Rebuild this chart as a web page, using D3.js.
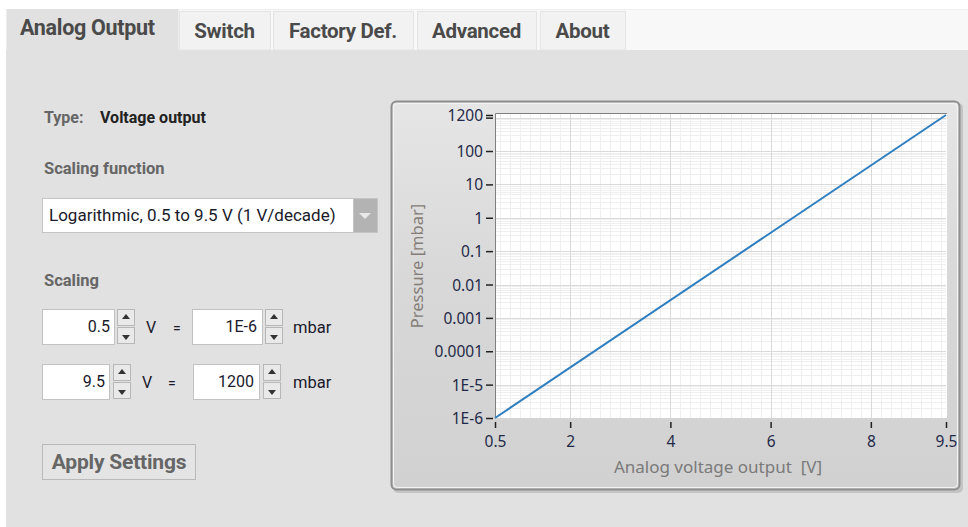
<!DOCTYPE html>
<html>
<head>
<meta charset="utf-8">
<script src="https://cdn.jsdelivr.net/npm/d3@7"></script>
<style>
  html, body { margin: 0; padding: 0; background: #fff; }
  svg { display: block; font-family: Roboto, "Noto Sans", sans-serif; }
  text { white-space: pre; }
</style>
</head>
<body>
<div id="holder"></div>
<script>
// Scaling points (voltage -> pressure)
const voltage = [0.5, 9.5];
const pressure = [1e-6, 1200];

// Axis ticks
const xTicks = [0.5, 2, 4, 6, 8, 9.5];
const yTicks = [1e-6, 1e-5, 1e-4, 0.001, 0.01, 0.1, 1, 10, 100, 1000, 1200];
const yTickLabels = ['1E-6', '1E-5', '0.0001', '0.001', '0.01', '0.1', '1', '10', '100', '', '1200'];

// Tabs
const tabNames = ['Analog Output', 'Switch', 'Factory Def.', 'Advanced', 'About'];
const tabEdges = [[6, 178], [179, 270], [273, 413], [417, 536], [540, 625]];

const W = 968, H = 527;

const svg = d3.select('#holder').append('svg')
    .attr('width', W)
    .attr('height', H);

const defs = svg.append('defs');
const grad = defs.append('linearGradient').attr('id', 'panelGrad')
    .attr('x1', 0).attr('y1', 0).attr('x2', 0).attr('y2', 1);
grad.append('stop').attr('offset', '0%').attr('stop-color', '#e6e6e6');
grad.append('stop').attr('offset', '45%').attr('stop-color', '#d8d8d8');
grad.append('stop').attr('offset', '100%').attr('stop-color', '#d1d1d1');

// page background
svg.append('rect').attr('width', W).attr('height', H).attr('fill', '#fff');
svg.append('rect').attr('x', 6).attr('y', 50).attr('width', W - 6).attr('height', H - 50).attr('fill', '#e1e1e1');
svg.append('rect').attr('x', 6).attr('y', 9).attr('width', W - 6).attr('height', 41).attr('fill', '#f8f8f8');
svg.append('line').attr('x1', 6).attr('x2', W).attr('y1', 9.5).attr('y2', 9.5).attr('stroke', '#efefef');

// tabs
const tabs = svg.append('g');
tabs.selectAll('rect')
    .data(tabNames)
    .join('rect')
    .attr('x', (d, i) => tabEdges[i][0] + 0.5)
    .attr('y', (d, i) => i === 0 ? 9 : 11.5)
    .attr('width', (d, i) => tabEdges[i][1] - tabEdges[i][0])
    .attr('height', (d, i) => i === 0 ? 42 : 38.5)
    .attr('fill', (d, i) => i === 0 ? '#e1e1e1' : '#f2f2f2')
    .attr('stroke', (d, i) => i === 0 ? 'none' : '#e4e4e4');

tabs.selectAll('text')
    .data(tabNames)
    .join('text')
    .attr('x', (d, i) => i === 0 ? 20 : (tabEdges[i][0] + tabEdges[i][1]) / 2)
    .attr('y', (d, i) => i === 0 ? 34.5 : 37.5)
    .attr('text-anchor', (d, i) => i === 0 ? 'start' : 'middle')
    .attr('font-size', (d, i) => i === 0 ? '21.5px' : '20.5px')
    .attr('font-weight', 'bold')
    .attr('letter-spacing', '-0.3px')
    .attr('fill', '#4a4a4a')
    .text(d => d);

// left controls
const ctl = svg.append('g');

ctl.append('text').attr('x', 44).attr('y', 123).attr('font-size', '16px').attr('font-weight', 'bold')
    .attr('fill', '#666').text('Type:');
ctl.append('text').attr('x', 100).attr('y', 123).attr('font-size', '16px').attr('font-weight', 'bold')
    .attr('fill', '#222').text('Voltage output');
ctl.append('text').attr('x', 44).attr('y', 174).attr('font-size', '16.5px').attr('font-weight', 'bold')
    .attr('fill', '#666').text('Scaling function');

// dropdown
ctl.append('rect').attr('x', 42.5).attr('y', 198.5).attr('width', 311).attr('height', 34)
    .attr('fill', '#fff').attr('stroke', '#c4c4c4');
ctl.append('rect').attr('x', 353.5).attr('y', 198.5).attr('width', 24).attr('height', 34)
    .attr('fill', '#b3b3b3').attr('stroke', '#c4c4c4');
ctl.append('path').attr('d', 'M359,213 L371,213 L365,219 Z').attr('fill', '#e8e8e8');
ctl.append('text').attr('x', 49).attr('y', 221).attr('font-size', '17px').attr('fill', '#1a1a2a')
    .text('Logarithmic, 0.5 to 9.5 V (1 V/decade)');

ctl.append('text').attr('x', 44).attr('y', 286).attr('font-size', '16.5px').attr('font-weight', 'bold')
    .attr('fill', '#666').text('Scaling');

// numeric inputs
const rows = [
    { y: 309, v: '0.5', p: '1E-6', b1: [42, 114], s1: 117, eq: 173, b2: [192, 262], s2: 265 },
    { y: 364, v: '9.5', p: '1200', b1: [42, 109], s1: 113, eq: 168, b2: [193, 259], s2: 263 }
];

function spinner(g, x, y) {
    g.append('rect').attr('x', x + 0.5).attr('y', y + 0.5).attr('width', 17).attr('height', 16)
        .attr('fill', '#e9e9e9').attr('stroke', '#b7b7b7');
    g.append('rect').attr('x', x + 0.5).attr('y', y + 18.5).attr('width', 17).attr('height', 16)
        .attr('fill', '#e9e9e9').attr('stroke', '#b7b7b7');
    g.append('path').attr('d', `M${x + 5},${y + 10} L${x + 13},${y + 10} L${x + 9},${y + 5} Z`).attr('fill', '#333');
    g.append('path').attr('d', `M${x + 5},${y + 26} L${x + 13},${y + 26} L${x + 9},${y + 31} Z`).attr('fill', '#333');
}

rows.forEach(r => {
    const g = ctl.append('g');
    g.append('rect').attr('x', r.b1[0] + 0.5).attr('y', r.y + 0.5).attr('width', r.b1[1] - r.b1[0])
        .attr('height', 35).attr('fill', '#fff').attr('stroke', '#c2c2c2');
    g.append('text').attr('x', r.b1[1] - 4).attr('y', r.y + 23).attr('text-anchor', 'end')
        .attr('font-size', '16px').attr('fill', '#1a1a2a').text(r.v);
    spinner(g, r.s1, r.y);
    g.append('text').attr('x', r.s1 + 29).attr('y', r.y + 24).attr('font-size', '16px').attr('fill', '#1a1a2a').text('V');
    g.append('text').attr('x', r.eq).attr('y', r.y + 24).attr('font-size', '14px').attr('fill', '#1a1a2a').text('=');
    g.append('rect').attr('x', r.b2[0] + 0.5).attr('y', r.y + 0.5).attr('width', r.b2[1] - r.b2[0])
        .attr('height', 35).attr('fill', '#fff').attr('stroke', '#c2c2c2');
    g.append('text').attr('x', r.b2[1] - 5).attr('y', r.y + 23).attr('text-anchor', 'end')
        .attr('font-size', '16px').attr('fill', '#1a1a2a').text(r.p);
    spinner(g, r.s2, r.y);
    g.append('text').attr('x', 293).attr('y', r.y + 24).attr('font-size', '16.5px').attr('fill', '#1a1a2a').text('mbar');
});

// apply button
ctl.append('rect').attr('x', 42.5).attr('y', 444.5).attr('width', 153).attr('height', 35)
    .attr('fill', '#e4e4e4').attr('stroke', '#b9b9b9');
ctl.append('text').attr('x', 119).attr('y', 469).attr('text-anchor', 'middle')
    .attr('font-size', '21px').attr('font-weight', 'bold').attr('letter-spacing', '-0.2px')
    .attr('fill', '#666').text('Apply Settings');

// chart panel
const panel = svg.append('g');
panel.append('rect').attr('x', 393).attr('y', 103).attr('width', 570).attr('height', 390).attr('rx', 5)
    .attr('fill', '#c4c4c4');
panel.append('rect').attr('x', 391.5).attr('y', 101.5).attr('width', 568).attr('height', 388).attr('rx', 5)
    .attr('fill', 'url(#panelGrad)').attr('stroke', '#8e8e8e').attr('stroke-width', 2);
panel.append('rect').attr('x', 393.5).attr('y', 103.5).attr('width', 564).attr('height', 384).attr('rx', 4)
    .attr('fill', 'none').attr('stroke', '#f4f4f4').attr('stroke-width', 1);

// plot
const plot = { left: 495, right: 946, top: 113, bottom: 418 };

const x = d3.scaleLinear().domain([0.5, 9.5]).range([plot.left, plot.right]);
const y = d3.scaleLog().domain([1e-6, 1200]).range([plot.bottom, 115]);

const chart = svg.append('g');
chart.append('rect').attr('x', plot.left).attr('y', plot.top)
    .attr('width', plot.right - plot.left + 1).attr('height', plot.bottom - plot.top).attr('fill', '#fff');

// minor grid
const xMinor = d3.range(6, 95, 2).map(d => d / 10).filter(d => d % 2 !== 0);
const yMinor = [];
d3.range(-6, 4).forEach(e => {
    d3.range(2, 10).forEach(k => {
        const v = k * Math.pow(10, e);
        if (v < 1200) yMinor.push(v);
    });
});

chart.append('g').selectAll('line')
    .data(xMinor)
    .join('line')
    .attr('x1', d => Math.round(x(d)) + 0.5).attr('x2', d => Math.round(x(d)) + 0.5)
    .attr('y1', plot.top).attr('y2', plot.bottom)
    .attr('stroke', '#efefef');

chart.append('g').selectAll('line')
    .data(yMinor)
    .join('line')
    .attr('y1', d => Math.round(y(d)) + 0.5).attr('y2', d => Math.round(y(d)) + 0.5)
    .attr('x1', plot.left).attr('x2', plot.right)
    .attr('stroke', '#efefef');

// major grid
chart.append('g').selectAll('line')
    .data(xTicks.slice(1, -1))
    .join('line')
    .attr('x1', d => Math.round(x(d)) + 0.5).attr('x2', d => Math.round(x(d)) + 0.5)
    .attr('y1', plot.top).attr('y2', plot.bottom)
    .attr('stroke', '#dadada');

chart.append('g').selectAll('line')
    .data(yTicks.slice(1, -1))
    .join('line')
    .attr('y1', d => Math.round(y(d)) + 0.5).attr('y2', d => Math.round(y(d)) + 0.5)
    .attr('x1', plot.left).attr('x2', plot.right)
    .attr('stroke', '#dadada');

// plot border (top, left)
chart.append('path')
    .attr('d', `M${plot.left + 0.5},${plot.bottom} V${plot.top + 0.5} H${plot.right + 1}`)
    .attr('fill', 'none').attr('stroke', '#808080');

// data line
const pts = voltage.map((v, i) => [v, pressure[i]]);
chart.append('path')
    .datum(pts)
    .attr('d', d3.line().x(d => x(d[0])).y(d => y(d[1])))
    .attr('fill', 'none')
    .attr('stroke', '#2f7ebf')
    .attr('stroke-width', 2);

// axes
const yAxis = d3.axisLeft(y)
    .tickValues(yTicks)
    .tickFormat((d, i) => yTickLabels[i])
    .tickSize(7)
    .tickPadding(3);

const yG = chart.append('g')
    .attr('transform', `translate(${plot.left - 2},0)`)
    .call(yAxis);

const xAxis = d3.axisBottom(x)
    .tickValues(xTicks)
    .tickFormat(d3.format('~g'))
    .tickSize(6)
    .tickPadding(5);

const xG = chart.append('g')
    .attr('transform', `translate(0,${plot.bottom + 4})`)
    .call(xAxis);

[yG, xG].forEach(g => {
    g.select('.domain').remove();
    g.selectAll('.tick line').attr('stroke', '#222').attr('stroke-width', 1.5);
    g.selectAll('.tick text')
        .attr('fill', '#1f2a48')
        .attr('font-family', '"Noto Sans", sans-serif')
        .attr('font-size', '15.5px');
});
yG.selectAll('.tick text').attr('dy', '0.36em');
xG.selectAll('.tick text').attr('dy', '0.9em');

// axis titles
chart.append('text')
    .attr('transform', `translate(${x(4.95)},${473}) `)
    .attr('text-anchor', 'middle')
    .attr('font-family', '"Noto Sans", sans-serif')
    .attr('font-size', '17px')
    .attr('fill', '#7a7a7a')
    .text('Analog voltage output  [V]');

chart.append('text')
    .attr('transform', `translate(423,266) rotate(-90)`)
    .attr('text-anchor', 'middle')
    .attr('font-family', '"Noto Sans", sans-serif')
    .attr('font-size', '16.5px')
    .attr('fill', '#857d77')
    .text('Pressure [mbar]');
</script>
</body>
</html>
